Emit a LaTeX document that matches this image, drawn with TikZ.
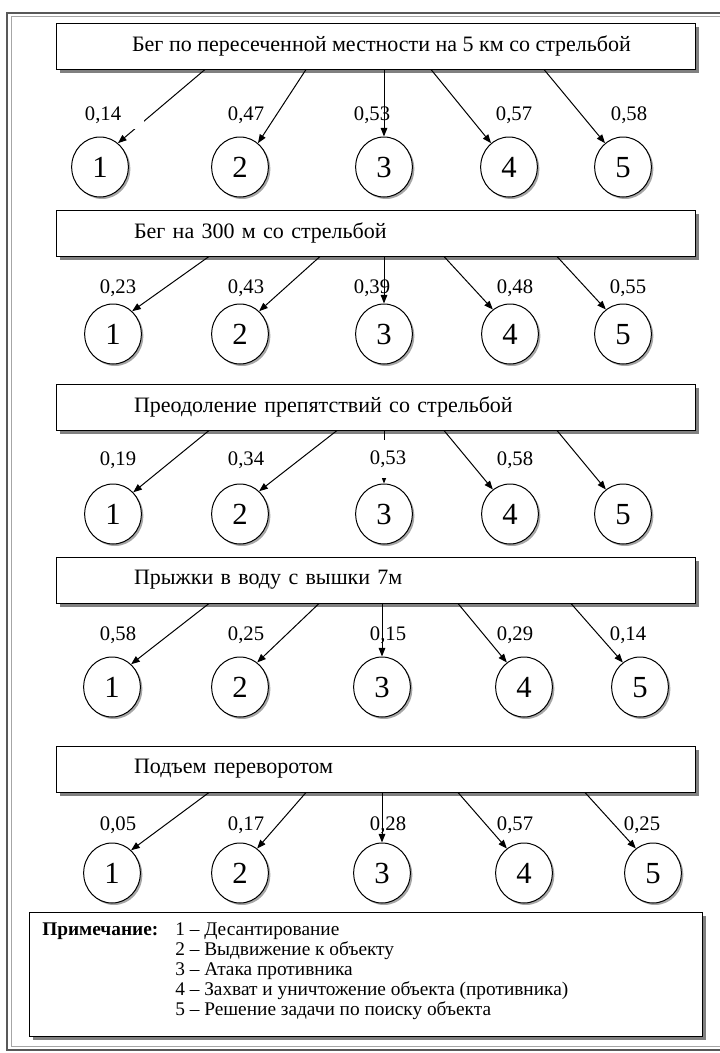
\documentclass[tikz,border=0pt]{standalone}
\usepackage{fontspec}
\setmainfont{Liberation Serif}
\usetikzlibrary{arrows.meta,shadows,shapes.geometric}
\begin{document}
\begin{tikzpicture}[x=0.75pt,y=-0.75pt,
  topic/.style={draw=black, line width=0.75pt, fill=white, minimum width=479.25pt,
    minimum height=34.5pt, inner sep=0pt, font=\fontsize{16.5}{19}\selectfont,
    drop shadow={shadow xshift=3pt,shadow yshift=-3pt,opacity=1,fill=black!50}},
  topicL/.style={topic, text width=362.25pt, align=left, inner xsep=58.5pt},
  num/.style={ellipse, draw=black, line width=0.75pt, fill=white, minimum width=42.5pt,
    minimum height=45pt, inner sep=0pt, font=\fontsize{23}{23}\selectfont,
    text height=15.5pt, text depth=0pt,
    drop shadow={shadow xshift=1.5pt,shadow yshift=-1.5pt,opacity=1,fill=black!35}},
  arr/.style={-{Triangle[length=6.5pt,width=5pt]}, line width=0.75pt},
  lab/.style={font=\fontsize{15.5}{18}\selectfont, inner sep=1pt},
  notebox/.style={draw=black, line width=0.75pt, fill=white, minimum width=504.75pt,
    minimum height=93pt, inner sep=0pt,
    drop shadow={shadow xshift=3pt,shadow yshift=-3pt,opacity=1,fill=black!50}},
  notetext/.style={font=\fontsize{14.5}{15}\selectfont, inner sep=0pt, anchor=base west}
]
\useasboundingbox (0,0) rectangle (720,1053);
% outer frame (open to the right)
\draw[black!65, line width=0.9pt] (725,13) -- (7,13) -- (7,1050) -- (725,1050);
\draw[black!35, line width=0.9pt] (725,16.5) -- (11.5,16.5) -- (11.5,1046.5) -- (725,1046.5);

% ---------- Section 1
\node[topic] (b1) at (375.5,46) {\hspace*{9pt}Бег по пересеченной местности на 5 км со стрельбой};
\node[num] (c11) at (100,167) {1};
\node[num] (c12) at (240,167) {2};
\node[num] (c13) at (384,167) {3};
\node[num] (c14) at (509,167) {4};
\node[num] (c15) at (623,167) {5};
\node[lab] (l12) at (246,115) {0,47};
\node[lab] (l13) at (372,115) {0,53};
\node[lab] (l14) at (514,115) {0,57};
\node[lab] (l15) at (629,115) {0,58};
\draw[arr] (205,0 |- b1.south) -- (c11.53);
\draw[arr] (306,0 |- b1.south) -- (c12.53);
\draw[arr] (c13 |- b1.south) -- (c13.north);
\draw[arr] (431,0 |- b1.south) -- (c14.127);
\draw[arr] (544,0 |- b1.south) -- (c15.127);
\fill[white] (88,101) rectangle (144,129);
\node[lab] (l11) at (103,115) {0,14};

% ---------- Section 2
\node[topicL] (b2) at (375.5,233) {Бег на 300 м со стрельбой};
\node[num] (c21) at (113,334) {1};
\node[num] (c22) at (240,334) {2};
\node[num] (c23) at (384,334) {3};
\node[num] (c24) at (510,334) {4};
\node[num] (c25) at (623,334) {5};
\node[lab] (l21) at (118,288) {0,23};
\node[lab] (l22) at (246,288) {0,43};
\node[lab] (l23) at (372,288) {0,39};
\node[lab] (l24) at (515,288) {0,48};
\node[lab] (l25) at (628,288) {0,55};
\draw[arr] (209,0 |- b2.south) -- (c21.50);
\draw[arr] (320,0 |- b2.south) -- (c22.50);
\draw[arr] (c23 |- b2.south) -- (c23.north);
\draw[arr] (444,0 |- b2.south) -- (c24.125);
\draw[arr] (557,0 |- b2.south) -- (c25.125);

% ---------- Section 3
\node[topicL] (b3) at (375.5,407) {Преодоление препятствий со стрельбой};
\node[num] (c31) at (113,514) {1};
\node[num] (c32) at (240,514) {2};
\node[num] (c33) at (384,514) {3};
\node[num] (c34) at (510,514) {4};
\node[num] (c35) at (623,514) {5};
\node[lab] (l31) at (118,460) {0,19};
\node[lab] (l32) at (246,460) {0,34};
\node[lab] (l34) at (515,460) {0,58};
\draw[arr] (209,0 |- b3.south) -- (c31.47);
\draw[arr] (337,0 |- b3.south) -- (c32.50);
\draw[arr] (c33 |- b3.south) -- (c33.north);
\draw[arr] (444,0 |- b3.south) -- (c34.125);
\draw[arr] (557,0 |- b3.south) -- (c35.125);
\node[lab, fill=white, minimum width=33pt, minimum height=28.5pt] (l33) at (388,459) {0,53};

% ---------- Section 4
\node[topicL] (b4) at (375.5,580) {Прыжки в воду с вышки 7м};
\node[num] (c41) at (112,687) {1};
\node[num] (c42) at (240,687) {2};
\node[num] (c43) at (382,687) {3};
\node[num] (c44) at (524,687) {4};
\node[num] (c45) at (640,687) {5};
\node[lab] (l41) at (118,635) {0,58};
\node[lab] (l42) at (246,635) {0,25};
\node[lab] (l43) at (388,635) {0,15};
\node[lab] (l44) at (515,635) {0,29};
\node[lab] (l45) at (628,635) {0,14};
\draw[arr] (209,0 |- b4.south) -- (c41.50);
\draw[arr] (319,0 |- b4.south) -- (c42.55);
\draw[arr] (c43 |- b4.south) -- (c43.north);
\draw[arr] (458,0 |- b4.south) -- (c44.125);
\draw[arr] (571,0 |- b4.south) -- (c45.125);

% ---------- Section 5
\node[topicL] (b5) at (375.5,769) {Подъем переворотом};
\node[num] (c51) at (112,873) {1};
\node[num] (c52) at (240,873) {2};
\node[num] (c53) at (382,873) {3};
\node[num] (c54) at (524,873) {4};
\node[num] (c55) at (653,873) {5};
\node[lab] (l51) at (118,825) {0,05};
\node[lab] (l52) at (246,825) {0,17};
\node[lab] (l53) at (388,825) {0,28};
\node[lab] (l54) at (515,825) {0,57};
\node[lab] (l55) at (642,825) {0,25};
\draw[arr] (209,0 |- b5.south) -- (c51.50);
\draw[arr] (306,0 |- b5.south) -- (c52.55);
\draw[arr] (c53 |- b5.south) -- (c53.north);
\draw[arr] (458,0 |- b5.south) -- (c54.125);
\draw[arr] (585,0 |- b5.south) -- (c55.125);

% ---------- Note
\node[notebox] (note) at (365.5,974) {};
\node[notetext] (notetxt) at (42,935) {%
  \begin{tabular}[t]{@{}p{99.75pt}@{}l@{}}
  \textbf{Примечание:} & 1 – Десантирование\\
   & 2 – Выдвижение к объекту\\
   & 3 – Атака противника\\
   & 4 – Захват и уничтожение объекта (противника)\\
   & 5 – Решение задачи по поиску объекта
  \end{tabular}};
\end{tikzpicture}
\end{document}
